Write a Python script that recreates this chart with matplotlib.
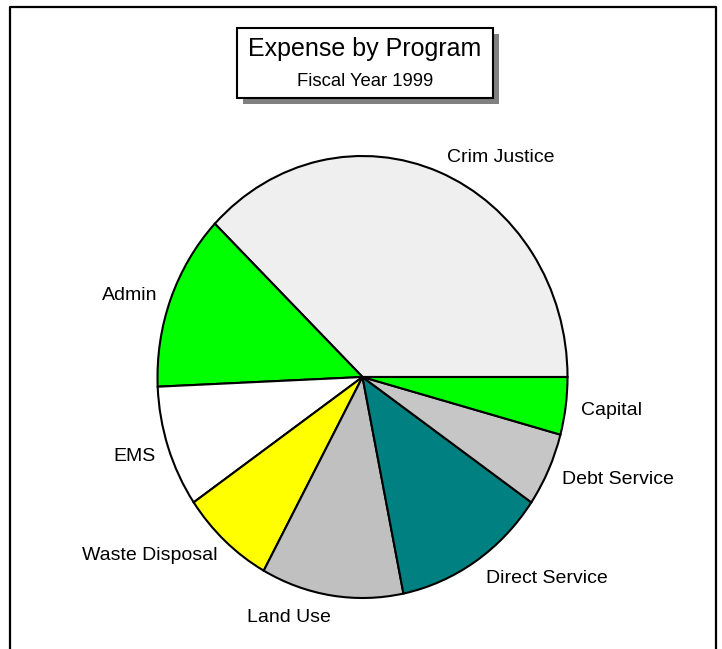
import matplotlib.pyplot as plt
from matplotlib.patches import Rectangle

programs = ['Crim Justice', 'Admin', 'EMS', 'Waste Disposal', 'Land Use',
            'Direct Service', 'Debt Service', 'Capital']
expense_pct = [37.8, 12.9, 8.9, 7.4, 11.2, 12.2, 5.4, 4.2]
slice_colors = ['#efefef', '#00ff00', '#ffffff', '#ffff00', '#c0c0c0',
                '#008080', '#c6c6c6', '#00ff00']

plt.rcParams['font.family'] = ['Liberation Sans', 'DejaVu Sans']

W, H = 722, 649
fig = plt.figure(figsize=(W / 100, H / 100), dpi=100)

# background axes in pixel coordinates (y down)
bg = fig.add_axes([0, 0, 1, 1])
bg.set_xlim(0, W)
bg.set_ylim(H, 0)
bg.axis('off')

# outer frame, bottom edge runs off the page
bg.plot([10, 10, 716, 716], [H + 10, 7, 7, H + 10], color='black', lw=1.6)

# title box with drop shadow
bg.add_patch(Rectangle((243, 34), 256, 70, facecolor='#808080', edgecolor='none'))
bg.add_patch(Rectangle((237, 28), 256, 70, facecolor='white', edgecolor='black', lw=1.5))
bg.text(365, 56, 'Expense by Program', fontsize=18, ha='center', va='baseline')
bg.text(365, 86.5, 'Fiscal Year 1999', fontsize=13.3, ha='center', va='baseline')

# pie (slightly taller than wide, like the original)
ax = fig.add_axes([157.5 / W, (H - 598) / H, 410 / W, 442 / H])
wedges, _ = ax.pie(expense_pct, colors=slice_colors, startangle=0, counterclock=True,
                   wedgeprops=dict(edgecolor='black', linewidth=1.5))
for w in wedges:
    w.set_clip_on(False)
ax.set_aspect('auto')
ax.set_xlim(-1, 1)
ax.set_ylim(-1, 1)

# label placement: (x, baseline y, alignment) in pixels
label_pos = [(447, 162, 'left'), (157, 300.5, 'right'), (156, 461, 'right'),
             (217, 560, 'right'), (331, 622, 'right'), (486, 583, 'left'),
             (562, 484, 'left'), (581, 415, 'left')]
for name, (x, y, ha) in zip(programs, label_pos):
    bg.text(x, y, name, fontsize=14, ha=ha, va='baseline')

plt.savefig('out.png', dpi=100)
